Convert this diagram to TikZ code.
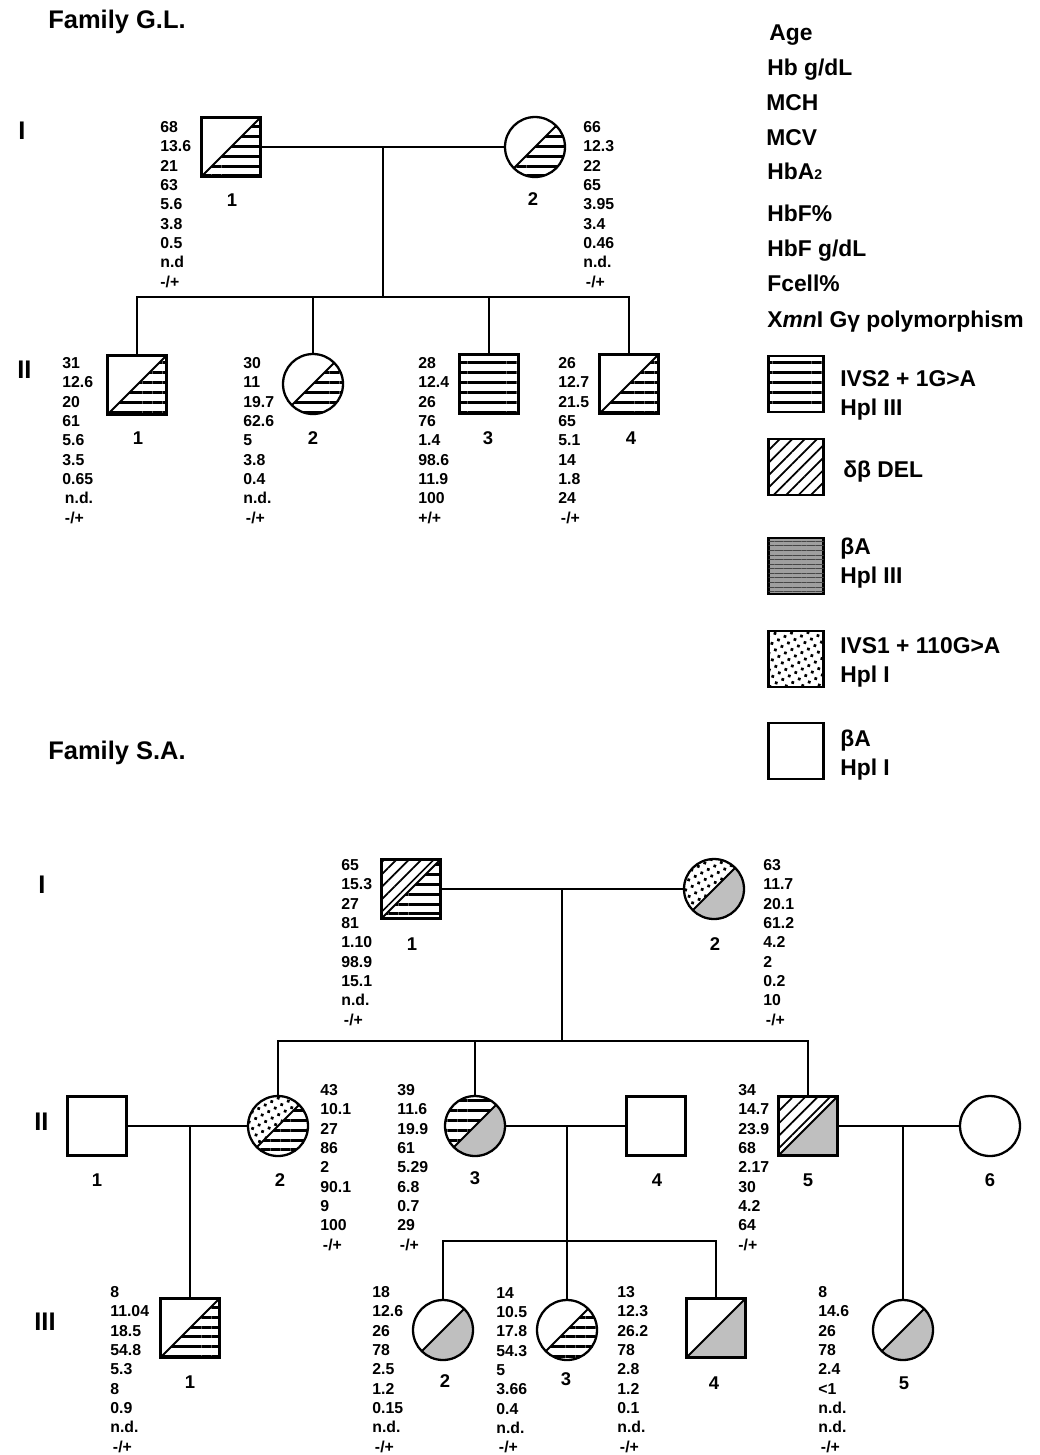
\documentclass[tikz,border=0pt]{standalone}
\usepackage{fontspec}
\setmainfont{Liberation Sans}
\usepackage{tikz}
\usetikzlibrary{patterns.meta, calc}
\newcommand\datafont{\fontsize{9}{11}\selectfont\bfseries}
\newcommand\idfont{\fontsize{10.5}{12}\selectfont\bfseries}
\newcommand\labfont{\fontsize{13}{16.4}\selectfont\bfseries}
\newcommand\famfont{\fontsize{14.5}{17}\selectfont\bfseries}
\tikzstyle{male} = [rectangle, draw, line width=1.3pt, minimum size=1.18cm, inner sep=0pt, fill=white]
\tikzstyle{female} = [circle, draw, line width=1.3pt, minimum size=1.2cm, inner sep=0pt, fill=white]
\tikzstyle{legbox} = [rectangle, draw, line width=1.3pt, minimum width=1.1cm, minimum height=1.12cm, inner sep=0pt, fill=white]
\tikzstyle{hlines} = [pattern={Lines[angle=0, distance=5.6pt, line width=1.7pt]}]
\tikzstyle{dlines} = [pattern={Lines[angle=45, distance=5pt, line width=1pt]}]
\tikzstyle{stipple} = [pattern={Dots[radius=1.1pt, distance=4.2pt, angle=28]}]
\tikzstyle{grey} = [fill=gray!50]
\tikzstyle{blank} = [fill=white]
\tikzstyle{data} = [anchor=north west, align=left, inner sep=0pt, font=\datafont]
\tikzstyle{idno} = [font=\idfont, inner sep=0pt]
\tikzstyle{lab} = [anchor=west, align=left, inner sep=0pt, font=\labfont]
\tikzstyle{par} = [anchor=base west, inner sep=0pt, font=\labfont]
\tikzstyle{gen} = [anchor=west, inner sep=0pt, font=\famfont]
\tikzstyle{conn} = [line width=1.1pt]
\tikzset{
  split/.style 2 args={path picture={
    \fill[#1] (path picture bounding box.south west) -- (path picture bounding box.north east)
      -- (path picture bounding box.north west) -- cycle;
    \fill[#2] (path picture bounding box.south west) -- (path picture bounding box.north east)
      -- (path picture bounding box.south east) -- cycle;
    \draw[line width=1.1pt] (path picture bounding box.south west) -- (path picture bounding box.north east);
  }}
}
\begin{document}
\begin{tikzpicture}[x=0.02cm, y=-0.02cm]
  \useasboundingbox[fill=white] (0,0) rectangle (1040,1455);

  % Family G.L.
  \node[gen] (glname) at (48,22) {Family G.L.};
  \node[gen] (glgI) at (18,131) {I};
  \node[gen] (glgII) at (17,370) {II};

  \node[male, split={blank}{hlines}] (gl11) at (231,147) {};
  \node[female, split={blank}{hlines}] (gl12) at (535,147) {};
  \node[idno] (gl11n) at (232,200) {1};
  \node[idno] (gl12n) at (533,199) {2};
  \node[data] (gl11d) at (160,121) {68\\13.6\\21\\63\\5.6\\3.8\\0.5\\n.d\\-/+};
  \node[data] (gl12d) at (583,121) {66\\12.3\\22\\65\\3.95\\3.4\\0.46\\n.d.\\\,-/+};

  \node[male, split={blank}{hlines}] (gl21) at (137,385) {};
  \node[female, split={blank}{hlines}] (gl22) at (313,384) {};
  \node[male, hlines] (gl23) at (489,384) {};
  \node[male, split={blank}{hlines}] (gl24) at (629,384) {};
  \node[idno] (gl21n) at (138,438) {1};
  \node[idno] (gl22n) at (313,438) {2};
  \node[idno] (gl23n) at (488,438) {3};
  \node[idno] (gl24n) at (631,438) {4};
  \node[data] (gl21d) at (62,357) {31\\12.6\\20\\61\\5.6\\3.5\\0.65\\\,n.d.\\\,-/+};
  \node[data] (gl22d) at (243,357) {30\\11\\19.7\\62.6\\5\\3.8\\0.4\\n.d.\\\,-/+};
  \node[data] (gl23d) at (418,357) {28\\12.4\\26\\76\\1.4\\98.6\\11.9\\100\\+/+};
  \node[data] (gl24d) at (558,357) {26\\12.7\\21.5\\65\\5.1\\14\\1.8\\24\\\,-/+};

  \coordinate (gl1m) at (383,147);
  \coordinate (gl1s) at (383,297);
  \draw[conn] (gl11) -- (gl12);
  \draw[conn] (gl1m) -- (gl1s);
  \draw[conn] (gl21.north) |- (gl1s) -| (gl24.north);
  \draw[conn] (gl22.north) -- (gl22.north |- gl1s);
  \draw[conn] (gl23.north) -- (gl23.north |- gl1s);

  % parameters
  \node[par] (pAge) at (769,40) {Age};
  \node[par] (pHb) at (767,75) {Hb g/dL};
  \node[par] (pMCH) at (766,110) {MCH};
  \node[par] (pMCV) at (766,145) {MCV};
  \node[par] (pHbA) at (767,179) {HbA{\fontsize{8}{9}\selectfont 2}};
  \node[par] (pHbF) at (767,221) {HbF\%};
  \node[par] (pHbFg) at (767,256) {HbF g/dL};
  \node[par] (pFcell) at (767,291) {Fcell\%};
  \node[par] (pXmn) at (767,327) {X\textit{mn}I Gγ polymorphism};

  % legend
  \node[legbox, hlines] (lg1) at (796,384) {};
  \node[legbox, dlines] (lg2) at (796,467) {};
  \node[legbox, fill=gray!75, postaction={pattern={Lines[angle=0, distance=2.6pt, line width=0.6pt]}, pattern color=gray!55!black}] (lg3) at (796,566) {};
  \node[legbox, stipple] (lg4) at (796,659) {};
  \node[legbox] (lg5) at (796,751) {};
  \node[lab] (lg1t) at (840,395) {IVS2 + 1G>A\\Hpl III};
  \node[lab] (lg2t) at (843,472) {δβ DEL};
  \node[lab] (lg3t) at (840,563) {βA\\Hpl III};
  \node[lab] (lg4t) at (840,662) {IVS1 + 110G>A\\Hpl I};
  \node[lab] (lg5t) at (840,755) {βA\\Hpl I};

  % Family S.A.
  \node[gen] (saname) at (48,753) {Family S.A.};
  \node[gen] (sagI) at (38,885) {I};
  \node[gen] (sagII) at (34,1122) {II};
  \node[gen] (sagIII) at (34,1322) {III};

  \node[male, split={dlines}{hlines}] (sa11) at (411,889) {};
  \node[female, split={stipple}{grey}] (sa12) at (714,889) {};
  \node[idno] (sa11n) at (412,944) {1};
  \node[idno] (sa12n) at (715,944) {2};
  \node[data] (sa11d) at (341,859) {65\\15.3\\27\\81\\1.10\\98.9\\15.1\\n.d.\\\,-/+};
  \node[data] (sa12d) at (763,859) {63\\11.7\\20.1\\61.2\\4.2\\2\\0.2\\10\\\,-/+};

  \node[male] (sa21) at (97,1126) {};
  \node[female, split={stipple}{hlines}] (sa22) at (278,1126) {};
  \node[female, split={hlines}{grey}] (sa23) at (475,1126) {};
  \node[male] (sa24) at (656,1126) {};
  \node[male, split={dlines}{grey}] (sa25) at (808,1126) {};
  \node[female] (sa26) at (990,1126) {};
  \node[idno] (sa21n) at (97,1180) {1};
  \node[idno] (sa22n) at (280,1180) {2};
  \node[idno] (sa23n) at (475,1178) {3};
  \node[idno] (sa24n) at (657,1180) {4};
  \node[idno] (sa25n) at (808,1180) {5};
  \node[idno] (sa26n) at (990,1180) {6};
  \node[data] (sa22d) at (320,1084) {43\\10.1\\27\\86\\2\\90.1\\9\\100\\\,-/+};
  \node[data] (sa23d) at (397,1084) {39\\11.6\\19.9\\61\\5.29\\6.8\\0.7\\29\\\,-/+};
  \node[data] (sa25d) at (738,1084) {34\\14.7\\23.9\\68\\2.17\\30\\4.2\\64\\-/+};

  \node[male, split={blank}{hlines}] (sa31) at (190,1328) {};
  \node[female, split={blank}{grey}] (sa32) at (443,1330) {};
  \node[female, split={blank}{hlines}] (sa33) at (567,1330) {};
  \node[male, split={blank}{grey}] (sa34) at (716,1328) {};
  \node[female, split={blank}{grey}] (sa35) at (903,1330) {};
  \node[idno] (sa31n) at (190,1382) {1};
  \node[idno] (sa32n) at (445,1381) {2};
  \node[idno] (sa33n) at (566,1379) {3};
  \node[idno] (sa34n) at (714,1383) {4};
  \node[idno] (sa35n) at (904,1383) {5};
  \node[data] (sa31d) at (110,1286) {8\\11.04\\18.5\\54.8\\5.3\\8\\0.9\\n.d.\\\,-/+};
  \node[data] (sa32d) at (372,1286) {18\\12.6\\26\\78\\2.5\\1.2\\0.15\\n.d.\\\,-/+};
  \node[data] (sa33d) at (496,1287) {14\\10.5\\17.8\\54.3\\5\\3.66\\0.4\\n.d.\\\,-/+};
  \node[data] (sa34d) at (617,1286) {13\\12.3\\26.2\\78\\2.8\\1.2\\0.1\\n.d.\\\,-/+};
  \node[data] (sa35d) at (818,1286) {8\\14.6\\26\\78\\2.4\\<1\\n.d.\\n.d.\\\,-/+};

  \coordinate (sa1m) at (562,889);
  \coordinate (sa1s) at (562,1041);
  \coordinate (sa2m) at (190,1126);
  \coordinate (sa3m) at (567,1126);
  \coordinate (sa3s) at (567,1241);
  \coordinate (sa5m) at (903,1126);
  \draw[conn] (sa11) -- (sa12);
  \draw[conn] (sa1m) -- (sa1s);
  \draw[conn] (sa22.north) |- (sa1s) -| (sa25.north);
  \draw[conn] (sa23.north) -- (sa23.north |- sa1s);
  \draw[conn] (sa21) -- (sa22);
  \draw[conn] (sa23) -- (sa24);
  \draw[conn] (sa25) -- (sa26);
  \draw[conn] (sa2m) -- (sa31.north);
  \draw[conn] (sa3m) -- (sa3s);
  \draw[conn] (sa32.north) |- (sa3s) -| (sa34.north);
  \draw[conn] (sa33.north) -- (sa3s);
  \draw[conn] (sa5m) -- (sa35.north);
\end{tikzpicture}
\end{document}
